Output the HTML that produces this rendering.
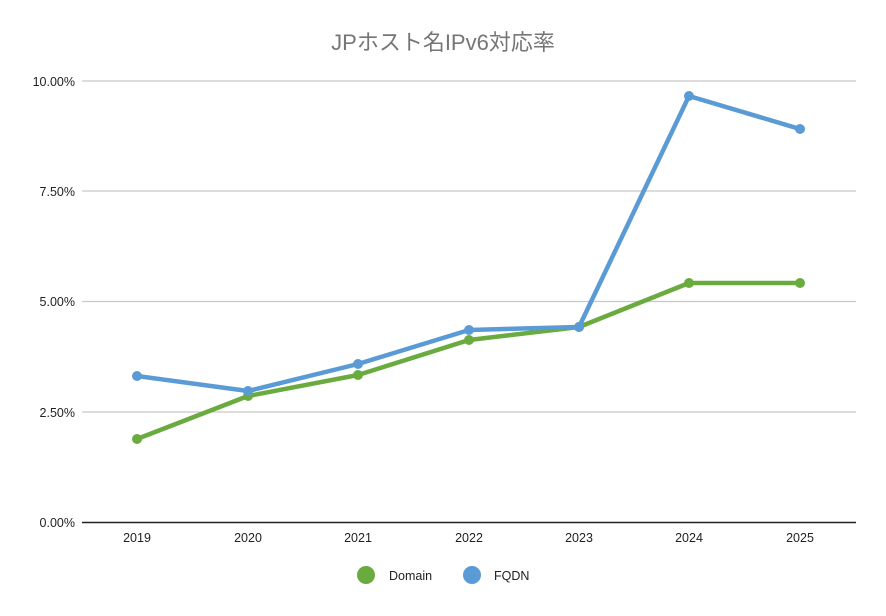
<!DOCTYPE html>
<html><head><meta charset="utf-8"><style>
html,body{margin:0;padding:0;background:#fff;}
svg{display:block;font-family:"Liberation Sans","Noto Sans CJK JP",sans-serif;}
</style></head><body>
<svg width="886" height="616" viewBox="0 0 886 616" xmlns="http://www.w3.org/2000/svg">
<rect width="886" height="616" fill="#fff"/>
<text x="443" y="50" text-anchor="middle" font-size="22" fill="#767676">JPホスト名IPv6対応率</text>
<g stroke="#c8c8c8" stroke-width="1.3">
<line x1="82" y1="81" x2="856" y2="81"/>
<line x1="82" y1="191" x2="856" y2="191"/>
<line x1="82" y1="301.5" x2="856" y2="301.5"/>
<line x1="82" y1="412" x2="856" y2="412"/>
</g>
<line x1="82" y1="522.5" x2="856" y2="522.5" stroke="#222" stroke-width="1.5"/>
<g font-size="12.5" fill="#222" text-anchor="end">
<text x="75" y="86">10.00%</text>
<text x="75" y="196">7.50%</text>
<text x="75" y="306">5.00%</text>
<text x="75" y="417">2.50%</text>
<text x="75" y="527">0.00%</text>
</g>
<g font-size="12.5" fill="#222" text-anchor="middle">
<text x="137" y="542">2019</text><text x="248" y="542">2020</text><text x="358" y="542">2021</text>
<text x="469" y="542">2022</text><text x="579" y="542">2023</text><text x="689" y="542">2024</text><text x="800" y="542">2025</text>
</g>
<polyline fill="none" stroke="#6aab40" stroke-width="4.5" stroke-linejoin="round" points="137,439 248,396 358,375 469,340 579,327 689,283 800,283"/>
<g fill="#6aab40">
<circle cx="137" cy="439" r="5"/><circle cx="248" cy="396" r="5"/><circle cx="358" cy="375" r="5"/><circle cx="469" cy="340" r="5"/><circle cx="579" cy="327" r="5"/><circle cx="689" cy="283" r="5"/><circle cx="800" cy="283" r="5"/>
</g>
<polyline fill="none" stroke="#5b9bd5" stroke-width="4.5" stroke-linejoin="round" points="137,376 248,391 358,364 469,330 579,327 689,96 800,129"/>
<g fill="#5b9bd5">
<circle cx="137" cy="376" r="5"/><circle cx="248" cy="391" r="5"/><circle cx="358" cy="364" r="5"/><circle cx="469" cy="330" r="5"/><circle cx="579" cy="327" r="5"/><circle cx="689" cy="96" r="5"/><circle cx="800" cy="129" r="5"/>
</g>
<circle cx="366" cy="575" r="9" fill="#6aab40"/>
<text x="389" y="580" font-size="12.5" fill="#222">Domain</text>
<circle cx="472" cy="575" r="9" fill="#5b9bd5"/>
<text x="494" y="580" font-size="12.5" fill="#222">FQDN</text>
</svg>
</body></html>
